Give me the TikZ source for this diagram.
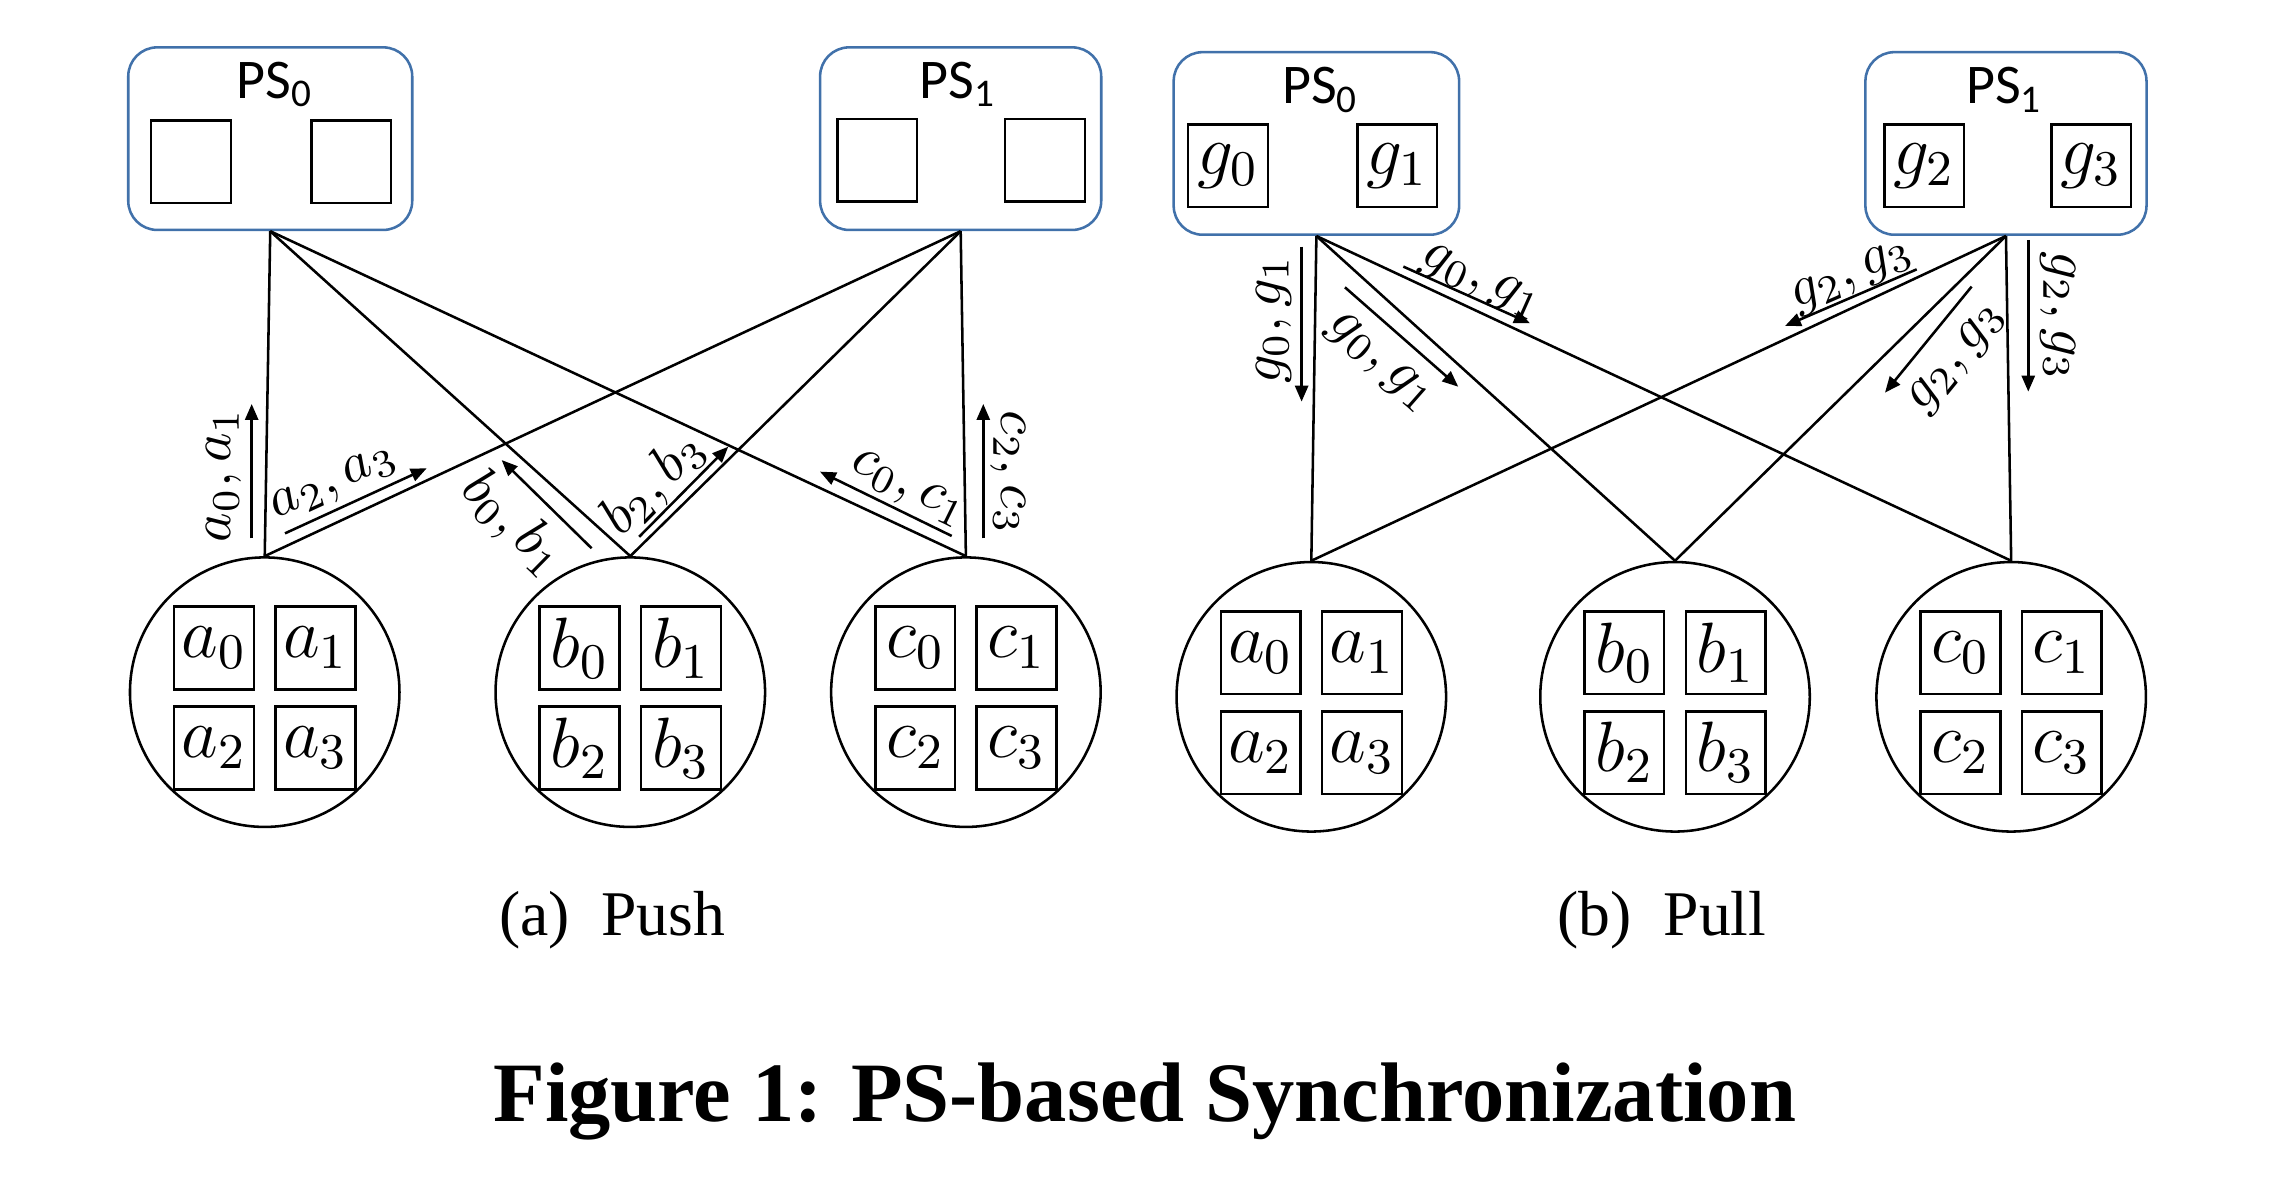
\RequirePackage{fix-cm}
\documentclass[tikz,border=0pt]{standalone}
\usepackage{fontspec}
\setmainfont{Liberation Serif}
\newfontfamily\psfont{Carlito}
\usetikzlibrary{arrows.meta}

\definecolor{psblue}{RGB}{65,113,170}

\begin{document}
\begin{tikzpicture}
	[x=0.1mm, y=-0.1mm, line width=0.5pt,
	 server/.style={draw=psblue, rounded corners=2mm, minimum width=19.6mm, minimum height=12.6mm},
	 slot/.style={draw, minimum width=5.5mm, minimum height=5.7mm, inner sep=0pt, font=\fontsize{14}{16}\selectfont},
	 worker/.style={draw, circle, minimum size=18.6mm, inner sep=0pt},
	 pslabel/.style={font=\psfont\fontsize{11}{13}\selectfont, anchor=base, inner sep=0pt},
	 msg/.style={-{Triangle[length=1.1mm, width=0.9mm]}},
	 lbl/.style={font=\fontsize{11}{13}\selectfont, inner sep=0pt},
	 caption/.style={font=\fontsize{12.5}{15}\selectfont, anchor=base}]
   \useasboundingbox (0,0) rectangle (1568,820);
   % (a) push
   \node[server] (pu0) at (186.5,95.7) {};
   \node[server, minimum width=19.4mm] (pu1) at (663,95.7) {};
   \node[pslabel] (pu0t) at (190,67.9) {PS\textsubscript{0}};
   \node[pslabel] (pu1t) at (661.4,67.9) {PS\textsubscript{1}};
   \node[slot] (pu0s0) at (131.8,111.5) {};
   \node[slot] (pu0s1) at (242.3,111.5) {};
   \node[slot] (pu1s0) at (605.5,110.5) {};
   \node[slot] (pu1s1) at (721.2,110.5) {};
   \node[worker] (pua) at (182.7,477.7) {};
   \node[worker] (pub) at (435,477.7) {};
   \node[worker] (puc) at (666.6,477.7) {};
   \node[slot] (pua0) at (147.7,447.2) {$a_0$};
   \node[slot] (pua1) at (217.7,447.2) {$a_1$};
   \node[slot] (pua2) at (147.7,516.2) {$a_2$};
   \node[slot] (pua3) at (217.7,516.2) {$a_3$};
   \node[slot] (pub0) at (400,447.2) {$b_0$};
   \node[slot] (pub1) at (470,447.2) {$b_1$};
   \node[slot] (pub2) at (400,516.2) {$b_2$};
   \node[slot] (pub3) at (470,516.2) {$b_3$};
   \node[slot] (puc0) at (631.6,447.2) {$c_0$};
   \node[slot] (puc1) at (701.6,447.2) {$c_1$};
   \node[slot] (puc2) at (631.6,516.2) {$c_2$};
   \node[slot] (puc3) at (701.6,516.2) {$c_3$};
   \path (pu0.south) edge (pua.north) edge (pub.north) edge (puc.north)
         (pu1.south) edge (pua.north) edge (pub.north) edge (puc.north);
   % push messages
   \coordinate (ta1) at (173.7,371.5); \coordinate (ha1) at (173.7,278.8);
   \coordinate (ta2) at (196.7,368.1); \coordinate (ha2) at (294.5,323.2);
   \coordinate (ta3) at (408.3,378.4); \coordinate (ha3) at (346.2,317.5);
   \coordinate (ta4) at (441.1,370.5); \coordinate (ha4) at (502.6,308.3);
   \coordinate (ta5) at (656.8,369.9); \coordinate (ha5) at (565.9,325.5);
   \coordinate (ta6) at (678.6,371.5); \coordinate (ha6) at (678.6,278.8);
   \draw[msg] (ta1) -- (ha1);
   \draw[msg] (ta2) -- (ha2);
   \draw[msg] (ta3) -- (ha3);
   \draw[msg] (ta4) -- (ha4);
   \draw[msg] (ta5) -- (ha5);
   \draw[msg] (ta6) -- (ha6);
   \node[lbl, rotate=90] (la1) at (154.5,328) {$a_0, a_1$};
   \node[lbl, rotate=24.7] (la2) at (231,334.5) {$a_2, a_3$};
   \node[lbl, rotate=-44.4] (la3) at (354,361.7) {$b_0, b_1$};
   \node[lbl, rotate=45.3] (la4) at (451.5,334) {$b_2, b_3$};
   \node[lbl, rotate=-26] (la5) at (626.5,338) {$c_0, c_1$};
   \node[lbl, rotate=-90] (la6) at (696,326) {$c_2, c_3$};
   \node[caption] (capa) at (422.5,645.5) {(a)\enskip Push};

   % (b) pull
   \node[server, minimum width=19.7mm] (pl0) at (908.5,99) {};
   \node[server, minimum width=19.4mm] (pl1) at (1384.4,99) {};
   \node[pslabel] (pl0t) at (911.5,71.6) {PS\textsubscript{0}};
   \node[pslabel] (pl1t) at (1383.5,71.6) {PS\textsubscript{1}};
   \node[slot] (pl0s0) at (847.5,114.5) {$g_0$};
   \node[slot] (pl0s1) at (964.2,114.5) {$g_1$};
   \node[slot] (pl1s0) at (1328,114.5) {$g_2$};
   \node[slot] (pl1s1) at (1443.2,114.5) {$g_3$};
   \node[worker] (pla) at (905,480.9) {};
   \node[worker] (plb) at (1156,480.9) {};
   \node[worker] (plc) at (1388,480.9) {};
   \node[slot] (pla0) at (870,450.4) {$a_0$};
   \node[slot] (pla1) at (940,450.4) {$a_1$};
   \node[slot] (pla2) at (870,519.4) {$a_2$};
   \node[slot] (pla3) at (940,519.4) {$a_3$};
   \node[slot] (plb0) at (1121,450.4) {$b_0$};
   \node[slot] (plb1) at (1191,450.4) {$b_1$};
   \node[slot] (plb2) at (1121,519.4) {$b_2$};
   \node[slot] (plb3) at (1191,519.4) {$b_3$};
   \node[slot] (plc0) at (1353,450.4) {$c_0$};
   \node[slot] (plc1) at (1423,450.4) {$c_1$};
   \node[slot] (plc2) at (1353,519.4) {$c_2$};
   \node[slot] (plc3) at (1423,519.4) {$c_3$};
   \path (pl0.south) edge (pla.north) edge (plb.north) edge (plc.north)
         (pl1.south) edge (pla.north) edge (plb.north) edge (plc.north);
   % pull messages
   \coordinate (tb1) at (898.3,170.2); \coordinate (hb1) at (898.3,277.2);
   \coordinate (tb2) at (928.2,198.3); \coordinate (hb2) at (1006.4,266.9);
   \coordinate (tb3) at (968.5,184); \coordinate (hb3) at (1055.9,223.1);
   \coordinate (tb4) at (1322.8,185.9); \coordinate (hb4) at (1231.9,225);
   \coordinate (tb5) at (1360.7,197.8); \coordinate (hb5) at (1300.9,271);
   \coordinate (tb6) at (1399.8,165.6); \coordinate (hb6) at (1399.8,270.3);
   \draw[msg] (tb1) -- (hb1);
   \draw[msg] (tb2) -- (hb2);
   \draw[msg] (tb3) -- (hb3);
   \draw[msg] (tb4) -- (hb4);
   \draw[msg] (tb5) -- (hb5);
   \draw[msg] (tb6) -- (hb6);
   \node[lbl, rotate=90] (lb1) at (879,220.8) {$g_0, g_1$};
   \node[lbl, rotate=-41.3] (lb2) at (952.4,250.5) {$g_0, g_1$};
   \node[lbl, rotate=-24.1] (lb3) at (1021.9,195) {$g_0, g_1$};
   \node[lbl, rotate=23.3] (lb4) at (1278.5,191) {$g_2, g_3$};
   \node[lbl, rotate=50.8] (lb5) at (1351.5,247.5) {$g_2, g_3$};
   \node[lbl, rotate=-90] (lb6) at (1420.5,218) {$g_2, g_3$};
   \node[caption] (capb) at (1147,645.5) {(b)\enskip Pull};

   \node[caption, font=\bfseries\fontsize{16.6}{20}\selectfont] (figcap) at (790,774) {Figure 1: PS-based Synchronization};
\end{tikzpicture}
\end{document}
